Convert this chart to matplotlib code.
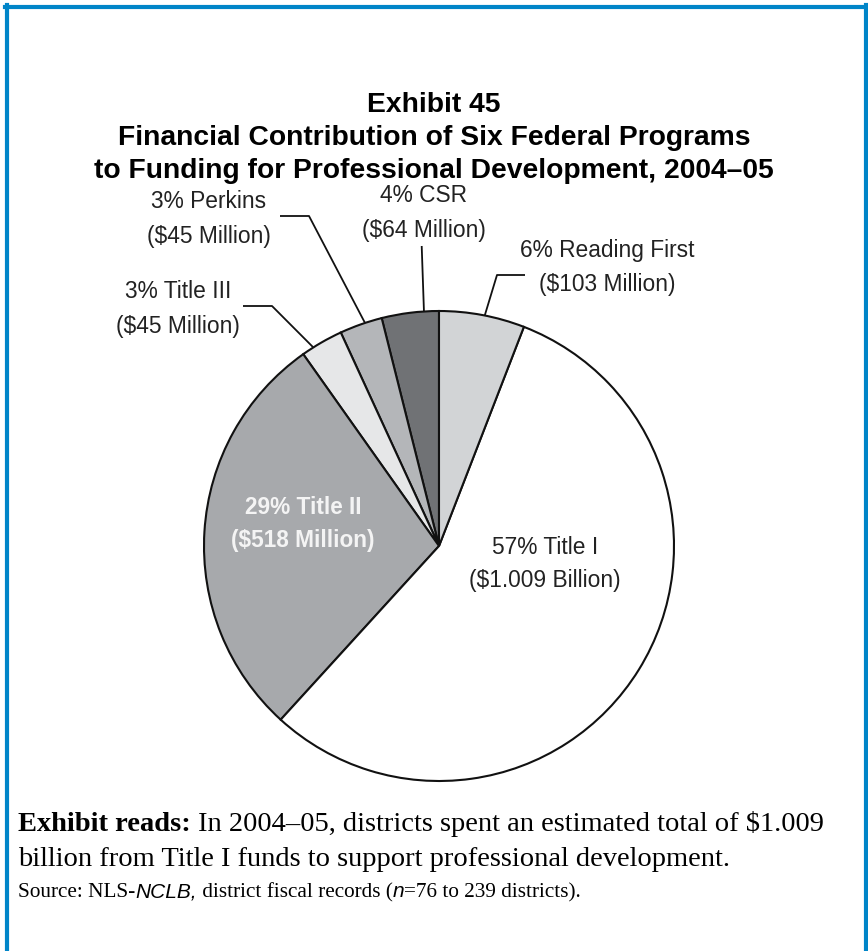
import numpy as np
import matplotlib
matplotlib.use('Agg')
import matplotlib.pyplot as plt
from matplotlib.lines import Line2D

# data, counter-clockwise from 12 o'clock
programs = ['CSR', 'Perkins', 'Title III', 'Title II', 'Title I', 'Reading First']
percents = [4, 3, 3, 29, 57, 6]
amounts = ['$64 Million', '$45 Million', '$45 Million', '$518 Million',
           '$1.009 Billion', '$103 Million']
colors = ['#707275', '#b4b6b9', '#e6e7e8', '#a7a9ac', '#ffffff', '#d2d4d6']

W, H = 868, 951
fig = plt.figure(figsize=(W / 100, H / 100), dpi=100)
ax = fig.add_axes([0, 0, 1, 1])

# blue frame
blue = '#0085c8'
ax.add_line(Line2D([7, 7], [0, H - 5], color=blue, lw=3))
ax.add_line(Line2D([5, W], [H - 7, H - 7], color=blue, lw=3))
ax.add_line(Line2D([866, 866], [0, H - 5], color=blue, lw=3))

title_font = ['Liberation Sans', 'DejaVu Sans']
title_lines = ['Exhibit 45',
               'Financial Contribution of Six Federal Programs',
               'to Funding for Professional Development, 2004\u201305']
for k, s in enumerate(title_lines):
    ax.text(434, H - 105 - 33 * k, s, ha='center', va='center',
            fontsize=20.3, fontweight='bold', family=title_font)

cx, cy, r = 439, H - 546, 235
wedges, _ = ax.pie(percents, colors=colors, startangle=90, counterclock=True,
                   center=(cx, cy), radius=r, frame=True,
                   wedgeprops=dict(edgecolor='#111111', linewidth=1.5))
ax.set_xlim(0, W)
ax.set_ylim(0, H)
ax.set_aspect('equal')
ax.axis('off')

lab_font = ['Liberation Sans', 'DejaVu Sans']

# label centres (x, y of first line from top)
label_xy = [(424, 196), (209, 202), (178, 292), (303, 507), (545, 547), (607, 250)]
for i, (lx, ly) in enumerate(label_xy):
    line1 = f'{percents[i]}% {programs[i]}'
    line2 = f'({amounts[i]})'
    if programs[i] == 'Title II':
        kw = dict(fontsize=16.3, fontweight='bold', color='#f4f4f4')
    else:
        kw = dict(fontsize=16.4, color='#222222')
    ax.text(lx, H - ly, line1, ha='center', va='center', family=lab_font, **kw)
    ax.text(lx, H - ly - 34, line2, ha='center', va='center', family=lab_font, **kw)

# leader lines: start point, optional elbow, position inside wedge
leaders = {
    'CSR': ([(421.7, 246)], 0.26),
    'Perkins': ([(280, 216), (309, 216)], 0.40),
    'Title III': ([(243, 306), (272, 306)], 0.72),
    'Reading First': ([(525, 275), (497, 275)], 0.47),
}
for i, w in enumerate(wedges):
    if programs[i] not in leaders:
        continue
    pts, frac = leaders[programs[i]]
    ang = np.deg2rad(w.theta1 + frac * (w.theta2 - w.theta1))
    xs = [p[0] for p in pts] + [cx + r * np.cos(ang)]
    ys = [H - p[1] for p in pts] + [cy + r * np.sin(ang)]
    ax.plot(xs, ys, color='#111111', lw=1.3, solid_capstyle='butt')

# footer
fig.canvas.draw()
rend = fig.canvas.get_renderer()
inv = ax.transData.inverted()


def run(x, y, parts):
    for s, kw in parts:
        t = ax.text(x, y, s, ha='left', va='baseline', **kw)
        bb = t.get_window_extent(rend)
        x = inv.transform((bb.x1, bb.y0))[0]


serif = ['Liberation Serif', 'DejaVu Serif']
sans = ['Liberation Sans', 'DejaVu Sans']
run(18, H - 831, [('Exhibit reads:', dict(fontsize=20.5, fontweight='bold', family=serif)),
                  (' In 2004\u201305, districts spent an estimated total of $1.009',
                   dict(fontsize=20.5, family=serif))])
run(18, H - 866, [('billion from Title I funds to support professional development.',
                   dict(fontsize=20.5, family=serif))])
run(18, H - 897, [('Source: NLS-', dict(fontsize=15.3, family=serif)),
                  ('NCLB,', dict(fontsize=15, family=sans, style='italic')),
                  (' district fiscal records (', dict(fontsize=15.3, family=serif)),
                  ('n', dict(fontsize=15, family=sans, style='italic')),
                  ('=76 to 239 districts).', dict(fontsize=15.3, family=serif))])

fig.savefig('out.png', dpi=100, facecolor='white')
